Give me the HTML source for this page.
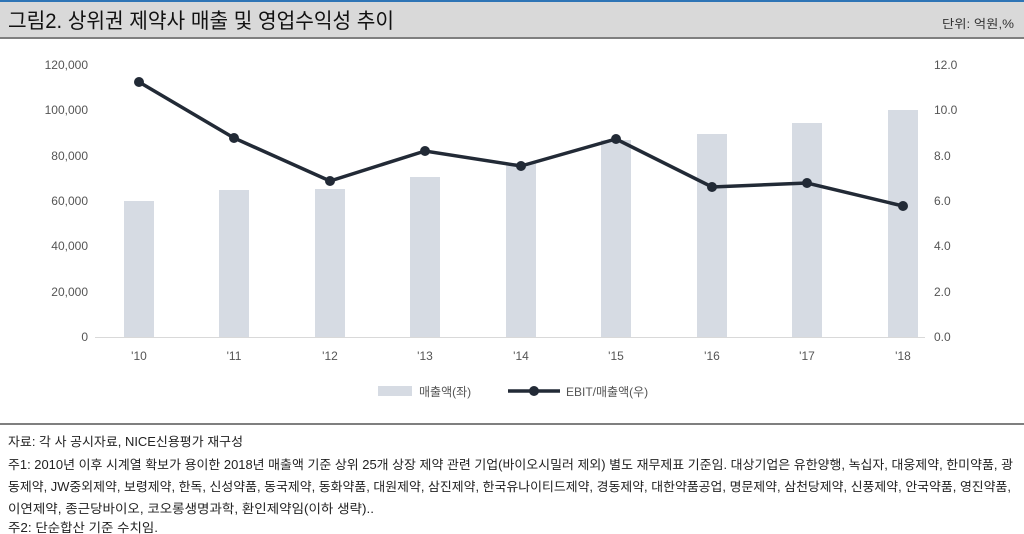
<!DOCTYPE html>
<html><head><meta charset="utf-8"><style>body{margin:0;background:#fff}svg{display:block}</style></head><body>
<svg width="1024" height="534" viewBox="0 0 1024 534" font-family="'Liberation Sans','Noto Sans CJK KR',sans-serif">
<rect x="0" y="0" width="1024" height="2" fill="#2e75b6"/>
<rect x="0" y="2" width="1024" height="36" fill="#d9d9d9"/>
<rect x="0" y="37" width="1024" height="2" fill="#7f7f7f"/>
<text x="8" y="28" font-size="21" textLength="386" lengthAdjust="spacingAndGlyphs" fill="#111">그림2. 상위권 제약사 매출 및 영업수익성 추이</text>
<text x="1014" y="28" font-size="12" text-anchor="end" textLength="72" lengthAdjust="spacingAndGlyphs" fill="#333">단위: 억원,%</text>
<g font-size="12" fill="#555" text-anchor="end">
<text x="88" y="341">0</text><text x="88" y="296">20,000</text><text x="88" y="250">40,000</text><text x="88" y="205">60,000</text><text x="88" y="160">80,000</text><text x="88" y="114">100,000</text><text x="88" y="69">120,000</text>
</g>
<g font-size="12" fill="#555">
<text x="934" y="341">0.0</text><text x="934" y="296">2.0</text><text x="934" y="250">4.0</text><text x="934" y="205">6.0</text><text x="934" y="160">8.0</text><text x="934" y="114">10.0</text><text x="934" y="69">12.0</text>
</g>
<line x1="95" y1="337.5" x2="925" y2="337.5" stroke="#d9d9d9"/>
<g fill="#d6dbe3">
<rect x="124" y="201" width="30" height="136"/>
<rect x="219" y="190" width="30" height="147"/>
<rect x="315" y="189" width="30" height="148"/>
<rect x="410" y="177" width="30" height="160"/>
<rect x="506" y="163" width="30" height="174"/>
<rect x="601" y="140" width="30" height="197"/>
<rect x="697" y="134" width="30" height="203"/>
<rect x="792" y="123" width="30" height="214"/>
<rect x="888" y="110" width="30" height="227"/>
</g>
<polyline fill="none" stroke="#222a36" stroke-width="3.5" points="139,82 234,138 330,181 425,151 521,166 616,139 712,187 807,183 903,206"/>
<g fill="#222a36">
<circle cx="139" cy="82" r="5"/><circle cx="234" cy="138" r="5"/><circle cx="330" cy="181" r="5"/><circle cx="425" cy="151" r="5"/><circle cx="521" cy="166" r="5"/><circle cx="616" cy="139" r="5"/><circle cx="712" cy="187" r="5"/><circle cx="807" cy="183" r="5"/><circle cx="903" cy="206" r="5"/>
</g>
<g font-size="12" fill="#555" text-anchor="middle">
<text x="139" y="360">'10</text><text x="234" y="360">'11</text><text x="330" y="360">'12</text><text x="425" y="360">'13</text><text x="521" y="360">'14</text><text x="616" y="360">'15</text><text x="712" y="360">'16</text><text x="807" y="360">'17</text><text x="903" y="360">'18</text>
</g>
<rect x="378" y="386" width="34" height="10" fill="#d6dbe3"/>
<text x="419" y="396" font-size="12" fill="#555">매출액(좌)</text>
<line x1="508" y1="391" x2="560" y2="391" stroke="#222a36" stroke-width="3.5"/>
<circle cx="534" cy="391" r="5" fill="#222a36"/>
<text x="566" y="396" font-size="12" fill="#555">EBIT/매출액(우)</text>
<rect x="0" y="423" width="1024" height="2" fill="#7f7f7f"/>
<g font-size="12.5" fill="#222">
<text x="8" y="446" textLength="235" lengthAdjust="spacingAndGlyphs">자료: 각 사 공시자료, NICE신용평가 재구성</text>
<text x="8" y="469" textLength="1005" lengthAdjust="spacingAndGlyphs">주1: 2010년 이후 시계열 확보가 용이한 2018년 매출액 기준 상위 25개 상장 제약 관련 기업(바이오시밀러 제외) 별도 재무제표 기준임. 대상기업은 유한양행, 녹십자, 대웅제약, 한미약품, 광</text>
<text x="8" y="491" textLength="1003" lengthAdjust="spacingAndGlyphs">동제약, JW중외제약, 보령제약, 한독, 신성약품, 동국제약, 동화약품, 대원제약, 삼진제약, 한국유나이티드제약, 경동제약, 대한약품공업, 명문제약, 삼천당제약, 신풍제약, 안국약품, 영진약품,</text>
<text x="8" y="513" textLength="366" lengthAdjust="spacingAndGlyphs">이연제약, 종근당바이오, 코오롱생명과학, 환인제약임(이하 생략)..</text>
<text x="8" y="532" textLength="150" lengthAdjust="spacingAndGlyphs">주2: 단순합산 기준 수치임.</text>
</g>
</svg>
</body></html>
